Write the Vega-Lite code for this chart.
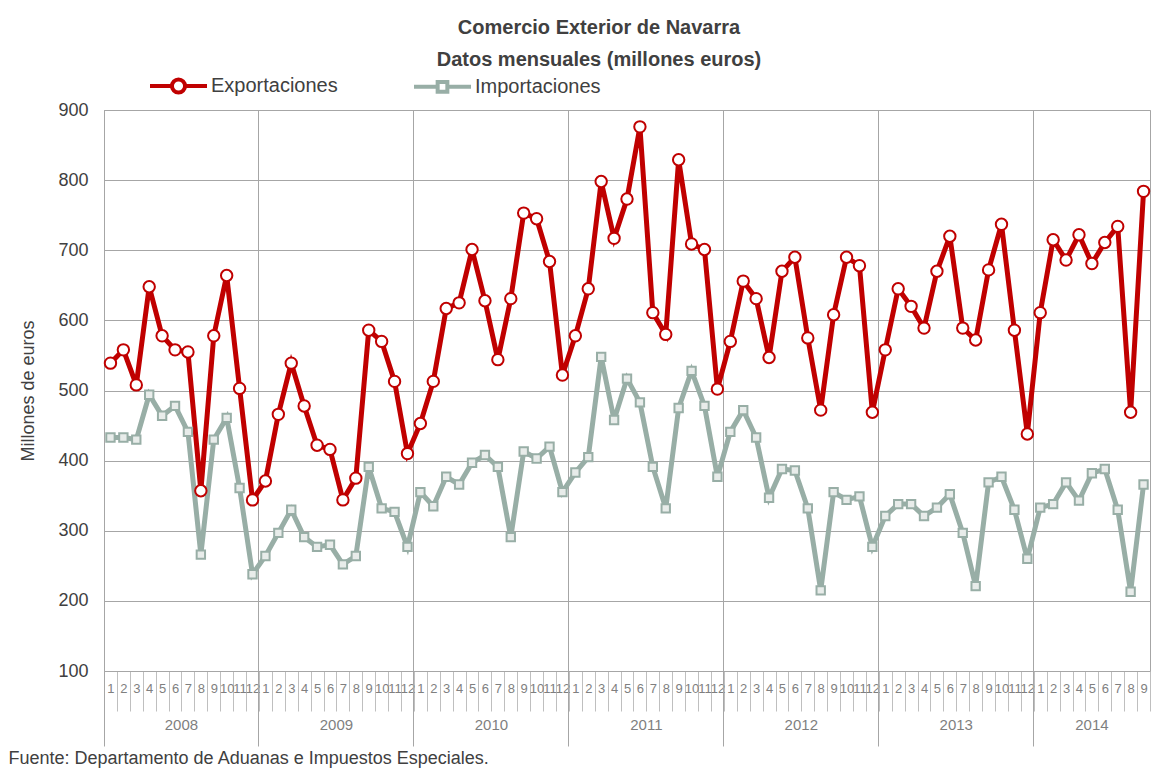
{
  "$schema": "https://vega.github.io/schema/vega-lite/v6.json",
  "width": 1046,
  "height": 561,
  "autosize": "none",
  "padding": {"left": 104, "top": 110, "right": 5, "bottom": 105},
  "background": "white",
  "config": {"font": "Liberation Sans", "view": {"stroke": "#a6a6a6"}},
  "title": {
    "text": "Comercio Exterior de Navarra",
    "subtitle": "Datos mensuales (millones euros)",
    "frame": "group",
    "anchor": "middle",
    "dx": -28,
    "offset": -15,
    "font": "Liberation Sans",
    "fontSize": 20,
    "fontWeight": "bold",
    "color": "#404040",
    "subtitleFont": "Liberation Sans",
    "subtitleFontSize": 20,
    "subtitleFontWeight": "bold",
    "subtitleColor": "#404040",
    "subtitlePadding": 12
  },
  "data": {
    "values": [
      {"m": "2008-01", "Exportaciones": 539, "Importaciones": 433},
      {"m": "2008-02", "Exportaciones": 558, "Importaciones": 433},
      {"m": "2008-03", "Exportaciones": 508, "Importaciones": 430},
      {"m": "2008-04", "Exportaciones": 648, "Importaciones": 494},
      {"m": "2008-05", "Exportaciones": 578, "Importaciones": 464},
      {"m": "2008-06", "Exportaciones": 558, "Importaciones": 478},
      {"m": "2008-07", "Exportaciones": 555, "Importaciones": 441},
      {"m": "2008-08", "Exportaciones": 357, "Importaciones": 266},
      {"m": "2008-09", "Exportaciones": 578, "Importaciones": 430},
      {"m": "2008-10", "Exportaciones": 664, "Importaciones": 461},
      {"m": "2008-11", "Exportaciones": 503, "Importaciones": 361},
      {"m": "2008-12", "Exportaciones": 344, "Importaciones": 238},
      {"m": "2009-01", "Exportaciones": 371, "Importaciones": 264},
      {"m": "2009-02", "Exportaciones": 466, "Importaciones": 297},
      {"m": "2009-03", "Exportaciones": 539, "Importaciones": 330},
      {"m": "2009-04", "Exportaciones": 478, "Importaciones": 291},
      {"m": "2009-05", "Exportaciones": 422, "Importaciones": 277},
      {"m": "2009-06", "Exportaciones": 416, "Importaciones": 280},
      {"m": "2009-07", "Exportaciones": 344, "Importaciones": 252},
      {"m": "2009-08", "Exportaciones": 375, "Importaciones": 264},
      {"m": "2009-09", "Exportaciones": 586, "Importaciones": 391},
      {"m": "2009-10", "Exportaciones": 570, "Importaciones": 332},
      {"m": "2009-11", "Exportaciones": 513, "Importaciones": 327},
      {"m": "2009-12", "Exportaciones": 410, "Importaciones": 277},
      {"m": "2010-01", "Exportaciones": 453, "Importaciones": 355},
      {"m": "2010-02", "Exportaciones": 513, "Importaciones": 335},
      {"m": "2010-03", "Exportaciones": 617, "Importaciones": 377},
      {"m": "2010-04", "Exportaciones": 625, "Importaciones": 366},
      {"m": "2010-05", "Exportaciones": 701, "Importaciones": 397},
      {"m": "2010-06", "Exportaciones": 628, "Importaciones": 408},
      {"m": "2010-07", "Exportaciones": 544, "Importaciones": 391},
      {"m": "2010-08", "Exportaciones": 631, "Importaciones": 291},
      {"m": "2010-09", "Exportaciones": 753, "Importaciones": 413},
      {"m": "2010-10", "Exportaciones": 745, "Importaciones": 403},
      {"m": "2010-11", "Exportaciones": 684, "Importaciones": 420},
      {"m": "2010-12", "Exportaciones": 522, "Importaciones": 355},
      {"m": "2011-01", "Exportaciones": 578, "Importaciones": 383},
      {"m": "2011-02", "Exportaciones": 645, "Importaciones": 405},
      {"m": "2011-03", "Exportaciones": 798, "Importaciones": 548},
      {"m": "2011-04", "Exportaciones": 717, "Importaciones": 458},
      {"m": "2011-05", "Exportaciones": 773, "Importaciones": 517},
      {"m": "2011-06", "Exportaciones": 876, "Importaciones": 483},
      {"m": "2011-07", "Exportaciones": 611, "Importaciones": 391},
      {"m": "2011-08", "Exportaciones": 580, "Importaciones": 332},
      {"m": "2011-09", "Exportaciones": 829, "Importaciones": 475},
      {"m": "2011-10", "Exportaciones": 709, "Importaciones": 528},
      {"m": "2011-11", "Exportaciones": 701, "Importaciones": 478},
      {"m": "2011-12", "Exportaciones": 502, "Importaciones": 377},
      {"m": "2012-01", "Exportaciones": 570, "Importaciones": 441},
      {"m": "2012-02", "Exportaciones": 656, "Importaciones": 472},
      {"m": "2012-03", "Exportaciones": 631, "Importaciones": 433},
      {"m": "2012-04", "Exportaciones": 547, "Importaciones": 347},
      {"m": "2012-05", "Exportaciones": 670, "Importaciones": 388},
      {"m": "2012-06", "Exportaciones": 690, "Importaciones": 386},
      {"m": "2012-07", "Exportaciones": 575, "Importaciones": 332},
      {"m": "2012-08", "Exportaciones": 472, "Importaciones": 215},
      {"m": "2012-09", "Exportaciones": 608, "Importaciones": 355},
      {"m": "2012-10", "Exportaciones": 690, "Importaciones": 344},
      {"m": "2012-11", "Exportaciones": 678, "Importaciones": 349},
      {"m": "2012-12", "Exportaciones": 469, "Importaciones": 277},
      {"m": "2013-01", "Exportaciones": 558, "Importaciones": 321},
      {"m": "2013-02", "Exportaciones": 645, "Importaciones": 338},
      {"m": "2013-03", "Exportaciones": 620, "Importaciones": 338},
      {"m": "2013-04", "Exportaciones": 589, "Importaciones": 321},
      {"m": "2013-05", "Exportaciones": 670, "Importaciones": 333},
      {"m": "2013-06", "Exportaciones": 720, "Importaciones": 352},
      {"m": "2013-07", "Exportaciones": 589, "Importaciones": 297},
      {"m": "2013-08", "Exportaciones": 572, "Importaciones": 221},
      {"m": "2013-09", "Exportaciones": 672, "Importaciones": 369},
      {"m": "2013-10", "Exportaciones": 737, "Importaciones": 377},
      {"m": "2013-11", "Exportaciones": 586, "Importaciones": 330},
      {"m": "2013-12", "Exportaciones": 438, "Importaciones": 260},
      {"m": "2014-01", "Exportaciones": 611, "Importaciones": 333},
      {"m": "2014-02", "Exportaciones": 715, "Importaciones": 338},
      {"m": "2014-03", "Exportaciones": 686, "Importaciones": 369},
      {"m": "2014-04", "Exportaciones": 722, "Importaciones": 343},
      {"m": "2014-05", "Exportaciones": 681, "Importaciones": 382},
      {"m": "2014-06", "Exportaciones": 711, "Importaciones": 388},
      {"m": "2014-07", "Exportaciones": 734, "Importaciones": 330},
      {"m": "2014-08", "Exportaciones": 469, "Importaciones": 213},
      {"m": "2014-09", "Exportaciones": 784, "Importaciones": 366}
    ]
  },
  "transform": [{"fold": ["Exportaciones", "Importaciones"], "as": ["serie", "valor"]}],
  "resolve": {"axis": {"x": "independent"}},
  "encoding": {
    "y": {
      "field": "valor", "type": "quantitative",
      "scale": {"domain": [100, 900], "nice": false, "zero": false},
      "axis": {
        "values": [100, 200, 300, 400, 500, 600, 700, 800, 900],
        "title": "Millones de euros",
        "titleFontSize": 18,
        "titleFontWeight": "normal",
        "titleColor": "#404040",
        "titlePadding": 20,
        "labelFontSize": 18,
        "labelColor": "#404040",
        "labelPadding": 16,
        "ticks": false,
        "grid": true,
        "gridColor": "#a6a6a6",
        "domainColor": "#a6a6a6"
      }
    }
  },
  "layer": [
    {
      "mark": {"type": "line", "strokeWidth": 5},
      "encoding": {
        "x": {
          "field": "m", "type": "nominal",
          "scale": {"type": "band", "paddingInner": 0, "paddingOuter": 0},
          "axis": {
            "orient": "bottom",
            "title": null,
            "tickBand": "extent",
            "tickSize": 40,
            "tickColor": "#bfbfbf",
            "domainColor": "#a6a6a6",
            "labelExpr": "datum.value ? '' + toNumber(slice(datum.value, 5)) : ''",
            "labelAngle": 0,
            "labelPadding": -29,
            "labelFontSize": 13,
            "labelColor": "#7f7f7f",
            "labelOverlap": false,
            "labelBound": false
          }
        },
        "color": {
          "field": "serie", "type": "nominal",
          "scale": {"domain": ["Exportaciones", "Importaciones"], "range": ["#c00000", "#98aea6"]},
          "legend": {
            "title": null,
            "orient": "none",
            "legendX": 44,
            "legendY": -55,
            "direction": "horizontal",
            "padding": 0,
            "symbolType": {"expr": "datum.value === 'Importaciones' ? 'M-1,0H-0.17M0.17,0H1M-0.17,-0.17H0.17V0.17H-0.17Z' : 'M-1,0H-0.23M0.23,0H1M-0.23,0A0.23,0.23 0 1,0 0.23,0A0.23,0.23 0 1,0 -0.23,0Z'"},
            "symbolSize": 3249,
            "symbolStrokeWidth": 4,
            "symbolFillColor": "white",
            "labelFontSize": 20,
            "labelColor": "#404040",
            "labelOffset": 2,
            "columnPadding": 68
          }
        }
      }
    },
    {
      "transform": [{"filter": "datum.serie === 'Importaciones'"}],
      "mark": {"type": "point", "shape": "square", "filled": true, "fill": "#e8ecea", "stroke": "#98aea6", "strokeWidth": 2, "size": 70, "opacity": 1},
      "encoding": {
        "x": {
          "field": "m", "type": "nominal",
          "scale": {"type": "band", "paddingInner": 0, "paddingOuter": 0},
          "axis": {
            "orient": "bottom",
            "values": ["2008-01", "2009-01", "2010-01", "2011-01", "2012-01", "2013-01", "2014-01"],
            "bandPosition": 0,
            "tickSize": 75,
            "tickColor": "#a6a6a6",
            "grid": true,
            "gridColor": "#a6a6a6",
            "domain": false,
            "labelExpr": "(datum.value && datum.value !== '2014-01') ? slice(datum.value, 0, 4) : ''",
            "labelAngle": 0,
            "labelOffset": 71,
            "labelPadding": -29,
            "labelFontSize": 15,
            "labelColor": "#7f7f7f",
            "labelOverlap": false,
            "labelBound": false,
            "title": "Fuente: Departamento de Aduanas e Impuestos Especiales.",
            "titleAnchor": "start",
            "titleAlign": "left",
            "titleBaseline": "alphabetic",
            "titleX": -96,
            "titleY": 92,
            "titleFontSize": 18,
            "titleFontWeight": "normal",
            "titleColor": "#404040"
          }
        }
      }
    },
    {
      "transform": [{"filter": "datum.serie === 'Exportaciones'"}],
      "mark": {"type": "point", "shape": "circle", "filled": true, "fill": "white", "stroke": "#c00000", "strokeWidth": 2, "size": 130, "opacity": 1},
      "encoding": {
        "x": {
          "field": "m", "type": "nominal",
          "scale": {"type": "band", "paddingInner": 0, "paddingOuter": 0},
          "axis": {
            "orient": "bottom",
            "values": ["2014-01"],
            "ticks": false,
            "grid": false,
            "domain": false,
            "title": null,
            "labelExpr": "datum.value ? slice(datum.value, 0, 4) : ''",
            "labelAngle": 0,
            "labelOffset": 51.7,
            "labelPadding": 46,
            "labelFontSize": 15,
            "labelColor": "#7f7f7f",
            "labelOverlap": false,
            "labelBound": false
          }
        }
      }
    }
  ]
}
